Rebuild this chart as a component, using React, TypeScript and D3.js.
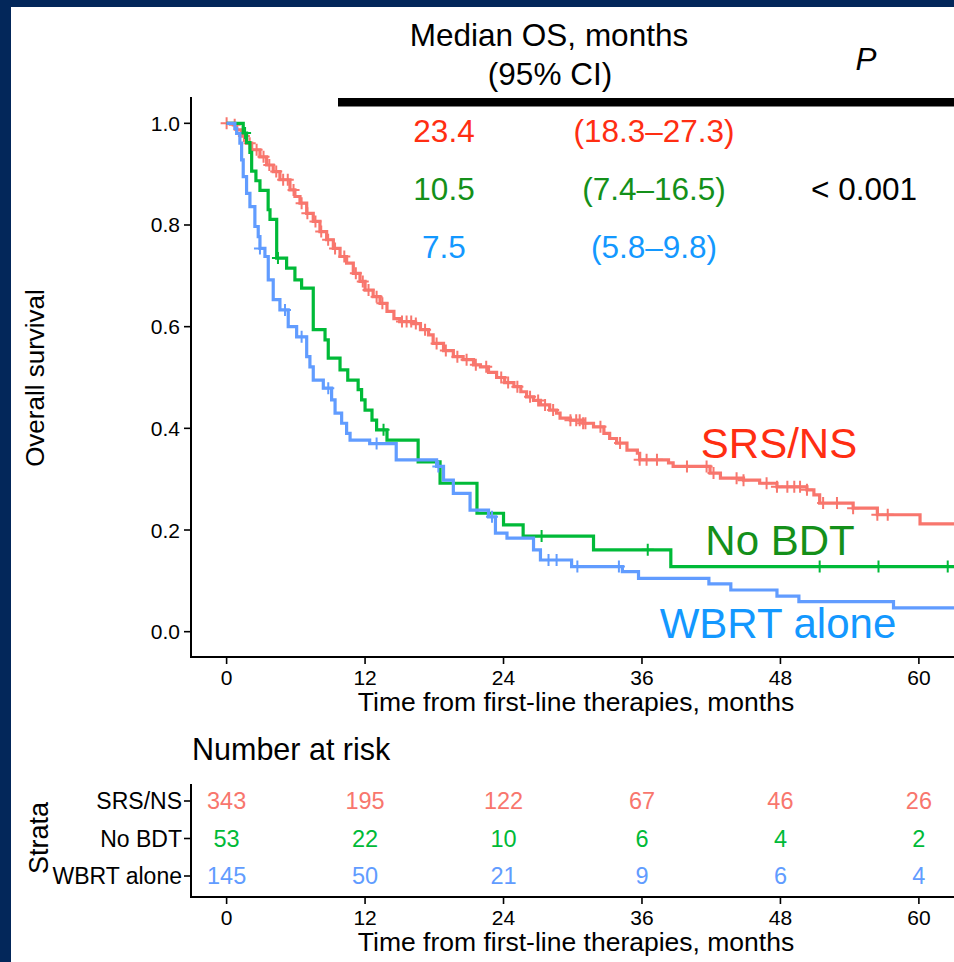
import React from "react";
import * as d3 from "d3";

// ---------- data ----------
const GROUPS = ["SRS/NS", "No BDT", "WBRT alone"];
const LINE_COLORS = ["#F8766D", "#00BA38", "#619CFF"];
const LABEL_COLORS = ["#FF2E12", "#14901A", "#1398FF"];

const T_TICKS = [0, 12, 24, 36, 48, 60];
const Y_TICKS = [0, 0.2, 0.4, 0.6, 0.8, 1.0];
const Y_TICK_LABELS = ["0.0", "0.2", "0.4", "0.6", "0.8", "1.0"];

// [time in months, survival after the drop]
const SRS_STEPS: [number, number][] = [
  [0.58, 0.997], [0.87, 0.987], [1.3, 0.975], [1.73, 0.961], [2.17, 0.948], [2.89, 0.934],
  [3.47, 0.918], [4.04, 0.905], [4.62, 0.889], [5.49, 0.869], [5.92, 0.856], [6.36, 0.843],
  [6.94, 0.823], [7.51, 0.807], [8.09, 0.787], [8.67, 0.771], [9.25, 0.754], [9.83, 0.738],
  [10.4, 0.725], [10.98, 0.705], [11.56, 0.689], [12.0, 0.672], [12.7, 0.659], [13.3, 0.646],
  [13.9, 0.63], [14.5, 0.616], [15.0, 0.61], [16.2, 0.606], [16.8, 0.594], [17.5, 0.584],
  [17.9, 0.567], [18.8, 0.553], [19.65, 0.541], [20.5, 0.535], [21.4, 0.525], [22.0, 0.521],
  [22.7, 0.51], [23.4, 0.5], [24.1, 0.49], [24.9, 0.482], [25.5, 0.472], [26.0, 0.462],
  [26.6, 0.455], [27.2, 0.446], [28.0, 0.436], [28.6, 0.43], [28.9, 0.42], [29.8, 0.416],
  [30.9, 0.41], [31.8, 0.403], [32.7, 0.39], [33.2, 0.38], [33.8, 0.371], [34.7, 0.357],
  [35.6, 0.351], [35.8, 0.338], [38.3, 0.332], [38.7, 0.325], [41.9, 0.312], [42.8, 0.302],
  [44.8, 0.298], [46.2, 0.292], [47.7, 0.285], [50.3, 0.279], [50.9, 0.269], [51.4, 0.253],
  [54.3, 0.243], [56.4, 0.23], [60.1, 0.212],
];
const SRS_CENSORS = [
  0.0, 0.7, 1.5, 2.0, 2.6, 3.2, 3.7, 4.3, 4.9, 5.3, 5.8, 6.5, 7.0, 7.7, 8.2, 8.8, 9.4, 10.2,
  11.2, 11.8, 12.3, 13.0, 13.5, 15.2, 15.6, 16.0, 16.4, 17.2, 18.2, 19.0, 20.0, 20.8, 21.6,
  22.5, 23.8, 24.4, 25.2, 26.3, 27.0, 27.6, 28.3, 29.8, 30.3, 30.6, 30.9, 31.1, 32.4, 34.1,
  35.8, 36.4, 37.3, 39.9, 41.6, 42.2, 44.2, 44.8, 46.8, 47.7, 48.6, 49.2, 49.7, 50.3, 51.7,
  52.9, 54.3, 56.4, 57.3,
];

const NOBDT_STEPS: [number, number][] = [
  [1.44, 0.981], [1.73, 0.962], [2.02, 0.943], [2.17, 0.906], [2.54, 0.887], [2.89, 0.868],
  [3.6, 0.83], [3.76, 0.811], [4.34, 0.735], [5.2, 0.715], [5.92, 0.692], [6.5, 0.676],
  [7.51, 0.594], [8.53, 0.574], [8.81, 0.538], [9.83, 0.515], [10.5, 0.495], [11.4, 0.476],
  [11.7, 0.456], [12.0, 0.436], [12.6, 0.416], [13.0, 0.397], [13.9, 0.377], [16.6, 0.334],
  [18.5, 0.292], [21.7, 0.233], [24.0, 0.21], [25.7, 0.188], [31.8, 0.161], [38.5, 0.128],
];
const NOBDT_CENSORS = [1.6, 4.45, 13.6, 27.3, 36.5, 51.4, 56.5, 62.5];

const WBRT_STEPS: [number, number][] = [
  [0.72, 0.99], [0.87, 0.98], [1.15, 0.961], [1.3, 0.928], [1.44, 0.895], [1.73, 0.862],
  [2.02, 0.836], [2.45, 0.797], [2.74, 0.777], [2.89, 0.754], [3.32, 0.738], [3.61, 0.692],
  [4.04, 0.653], [4.62, 0.633], [5.34, 0.6], [6.07, 0.58], [6.94, 0.541], [7.22, 0.521],
  [7.51, 0.495], [8.38, 0.479], [9.1, 0.456], [9.4, 0.43], [9.97, 0.41], [10.4, 0.39],
  [10.7, 0.377], [12.4, 0.37], [14.7, 0.338], [18.2, 0.325], [18.8, 0.298], [19.65, 0.272],
  [21.1, 0.239], [22.7, 0.226], [23.3, 0.194], [24.3, 0.184], [26.6, 0.161], [27.2, 0.141],
  [29.9, 0.128], [34.3, 0.118], [35.7, 0.105], [41.8, 0.094], [43.7, 0.082], [47.7, 0.07],
  [49.6, 0.059], [57.8, 0.047],
];
const WBRT_CENSORS = [2.89, 5.06, 6.5, 8.81, 13.0, 18.35, 23.0, 27.9, 28.6, 30.4, 34.0];

const MEDIANS = ["23.4", "10.5", "7.5"];
const CIS = ["(18.3–27.3)", "(7.4–16.5)", "(5.8–9.8)"];
const P_VALUE = "< 0.001";

const RISK_SRS = [343, 195, 122, 67, 46, 26];
const RISK_NOBDT = [53, 22, 10, 6, 4, 2];
const RISK_WBRT = [145, 50, 21, 9, 6, 4];

const X_TITLE = "Time from first-line therapies, months";

// ---------- helpers ----------
const FONT = "'Liberation Sans', Arial, Helvetica, sans-serif";
const T_END = 63.1;

function survAt(steps: [number, number][], t: number) {
  let s = 1;
  for (const [tt, ss] of steps) {
    if (tt <= t) s = ss;
    else break;
  }
  return s;
}

export default function App() {
  const W = 954;
  const H = 962;
  const x = d3.scaleLinear().domain([-3, 63]).range([192, 953.5]);
  const y = d3.scaleLinear().domain([-0.05, 1.05]).range([657.1, 97.9]);

  const series = [
    { steps: SRS_STEPS, censors: SRS_CENSORS },
    { steps: NOBDT_STEPS, censors: NOBDT_CENSORS },
    { steps: WBRT_STEPS, censors: WBRT_CENSORS },
  ];

  const line = d3
    .line<[number, number]>()
    .x((d) => x(d[0]))
    .y((d) => y(d[1]))
    .curve(d3.curveStepAfter);

  const risks = [RISK_SRS, RISK_NOBDT, RISK_WBRT];
  const riskY = d3.scalePoint<string>().domain(GROUPS).range([801, 876]);
  const axisLeft = 191;
  const mainBottom = 657;
  const riskBottom = 897;
  const HF = 31.5;

  return (
    <svg
      width={W}
      height={H}
      style={{ position: "absolute", left: 0, top: 0 }}
      fontFamily={FONT}
    >
      <rect x={0} y={0} width={W} height={H} fill="#03275A" />
      <rect x={11} y={7} width={W - 11} height={H - 7} fill="#ffffff" />

      {/* header table */}
      <text x={549} y={46} fontSize={HF} textAnchor="middle" fill="#000">
        Median OS, months
      </text>
      <text x={550} y={85} fontSize={HF} textAnchor="middle" fill="#000">
        (95% CI)
      </text>
      <text x={866} y={70} fontSize={HF} fontStyle="italic" textAnchor="middle" fill="#000">
        P
      </text>
      <rect x={338} y={98} width={W - 338} height={8.5} fill="#000" />

      {GROUPS.map((g, i) => (
        <g key={g}>
          <text x={444} y={142 + i * 58} fontSize={HF} textAnchor="middle" fill={LABEL_COLORS[i]}>
            {MEDIANS[i]}
          </text>
          <text x={654} y={142 + i * 58} fontSize={HF} textAnchor="middle" fill={LABEL_COLORS[i]}>
            {CIS[i]}
          </text>
        </g>
      ))}
      <text x={864} y={200} fontSize={HF} textAnchor="middle" fill="#000">
        {P_VALUE}
      </text>

      {/* curves */}
      {series.map((s, i) => {
        const pts: [number, number][] = [[0, 1], ...s.steps];
        pts.push([T_END, s.steps[s.steps.length - 1][1]]);
        return (
          <g key={i}>
            <path d={line(pts) || ""} fill="none" stroke={LINE_COLORS[i]} strokeWidth={3.2} />
            {s.censors.map((c, j) => {
              const cx = x(c);
              const cy = y(survAt(s.steps, c));
              return (
                <path
                  key={j}
                  d={`M${cx - 6},${cy}H${cx + 6}M${cx},${cy - 6}V${cy + 6}`}
                  stroke={LINE_COLORS[i]}
                  strokeWidth={2}
                  fill="none"
                />
              );
            })}
          </g>
        );
      })}

      {/* in-plot labels */}
      <text x={779} y={458} fontSize={42} textAnchor="middle" fill={LABEL_COLORS[0]}>
        SRS/NS
      </text>
      <text x={780} y={555} fontSize={42} textAnchor="middle" fill={LABEL_COLORS[1]}>
        No BDT
      </text>
      <text x={778} y={638} fontSize={42} textAnchor="middle" fill={LABEL_COLORS[2]}>
        WBRT alone
      </text>

      {/* main axes */}
      <line x1={axisLeft} x2={axisLeft} y1={97} y2={mainBottom + 1} stroke="#000" strokeWidth={2} />
      <line x1={axisLeft - 1} x2={W} y1={mainBottom} y2={mainBottom} stroke="#000" strokeWidth={2} />
      {Y_TICKS.map((v, i) => (
        <g key={v}>
          <line x1={axisLeft - 7} x2={axisLeft} y1={y(v)} y2={y(v)} stroke="#000" strokeWidth={1.6} />
          <text x={axisLeft - 11} y={y(v) + 7.5} fontSize={21} textAnchor="end" fill="#000">
            {Y_TICK_LABELS[i]}
          </text>
        </g>
      ))}
      {T_TICKS.map((t) => (
        <g key={t}>
          <line x1={x(t)} x2={x(t)} y1={mainBottom} y2={mainBottom + 7} stroke="#000" strokeWidth={1.6} />
          <text x={x(t)} y={mainBottom + 28} fontSize={21} textAnchor="middle" fill="#000">
            {t}
          </text>
        </g>
      ))}
      <text x={576} y={711} fontSize={26.5} textAnchor="middle" fill="#000">
        {X_TITLE}
      </text>
      <text
        transform={`translate(44,378) rotate(-90)`}
        fontSize={26}
        textAnchor="middle"
        fill="#000"
      >
        Overall survival
      </text>

      {/* risk table */}
      <text x={192} y={760} fontSize={30.5} fill="#000">
        Number at risk
      </text>
      <line x1={axisLeft} x2={axisLeft} y1={784} y2={riskBottom + 1} stroke="#000" strokeWidth={2} />
      <line x1={axisLeft - 1} x2={W} y1={riskBottom} y2={riskBottom} stroke="#000" strokeWidth={2} />
      {GROUPS.map((g, i) => (
        <g key={g}>
          <line x1={axisLeft - 7} x2={axisLeft} y1={riskY(g)!} y2={riskY(g)!} stroke="#000" strokeWidth={1.6} />
          <text x={axisLeft - 9} y={riskY(g)! + 8} fontSize={23} textAnchor="end" fill="#000">
            {g}
          </text>
          {risks[i].map((n, j) => (
            <text
              key={j}
              x={x(T_TICKS[j])}
              y={riskY(g)! + 8}
              fontSize={23.5}
              textAnchor="middle"
              fill={LINE_COLORS[i]}
            >
              {n}
            </text>
          ))}
        </g>
      ))}
      {T_TICKS.map((t) => (
        <g key={t}>
          <line x1={x(t)} x2={x(t)} y1={riskBottom} y2={riskBottom + 7} stroke="#000" strokeWidth={1.6} />
          <text x={x(t)} y={riskBottom + 28} fontSize={21} textAnchor="middle" fill="#000">
            {t}
          </text>
        </g>
      ))}
      <text x={576} y={951} fontSize={26.5} textAnchor="middle" fill="#000">
        {X_TITLE}
      </text>
      <text
        transform={`translate(48,838) rotate(-90)`}
        fontSize={27}
        textAnchor="middle"
        fill="#000"
      >
        Strata
      </text>
    </svg>
  );
}
